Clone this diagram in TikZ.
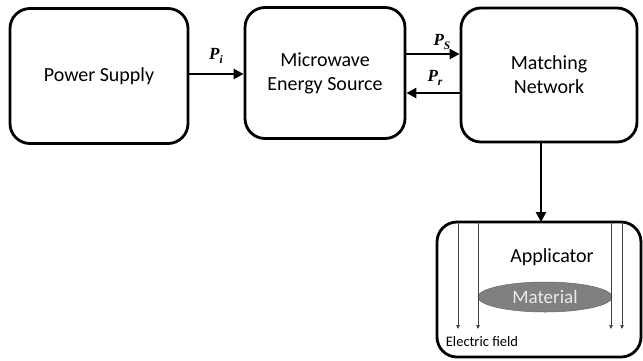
\documentclass[tikz,border=0pt]{standalone}
\usepackage{fontspec}
\setmainfont{Carlito}
\newfontfamily\pfont{Liberation Serif}
\newcommand{\plab}[2]{{\pfont\bfseries\itshape\fontsize{17}{17}\selectfont #1\raisebox{-3.5pt}{\fontsize{11.5}{11.5}\selectfont #2}}}
\usetikzlibrary{arrows.meta,shapes.geometric}
\begin{document}
\begin{tikzpicture}[x=1pt,y=-1pt,
  blk/.style={draw=black,line width=2.8pt,rounded corners=20pt,align=center,font=\fontsize{20}{24}\selectfont},
  conn/.style={line width=2.8pt,-{Triangle[length=10pt,width=10pt]}},
  field/.style={draw=black!75,line width=0.7pt,-{Triangle[length=4pt,width=3.5pt]}}]
\useasboundingbox (0,0) rectangle (643,360);
\node[blk,minimum width=178pt,minimum height=135pt] (ps) at (99,76) {Power Supply};
\node[blk,minimum width=160pt,minimum height=131pt] (mes) at (325,73) {Microwave\\Energy Source};
\node[blk,minimum width=176pt,minimum height=134pt] (mn) at (549,75) {Matching\\Network};
\draw[line width=2.8pt,rounded corners=20pt] (437,222) rectangle (641,357);
\coordinate (apptop) at (541,222);
\node[font=\fontsize{20}{24}\selectfont] (app) at (552,257) {Applicator};
\node[ellipse,fill=black!50,draw=black!60,line width=0.5pt,minimum width=134pt,minimum height=30pt,inner sep=0pt,text=black!8,font=\fontsize{19}{23}\selectfont] (mat) at (545,297) {Material};
\node[font=\fontsize{14.5}{17}\selectfont] (ef) at (482,342) {Electric field};
\foreach \xx/\nm in {458/a,478/b,611/c,622/d}{
  \coordinate (f\nm1) at (\xx,222);
  \coordinate (f\nm2) at (\xx,329);
  \draw[field] (f\nm1) -- (f\nm2);
}
\draw[conn] (ps.east|-0,74) -- (mes.west|-0,74);
\node (pi) at (216,56) {\plab{P}{i}};
\draw[conn] (mes.east|-0,54) -- (mn.west|-0,54);
\node (psl) at (442,42) {\plab{P}{S}};
\draw[conn] (mn.west|-0,93) -- (mes.east|-0,93);
\node (prl) at (435,78) {\plab{P}{r}};
\draw[conn] (mn.south-|apptop) -- (apptop);
\end{tikzpicture}
\end{document}
